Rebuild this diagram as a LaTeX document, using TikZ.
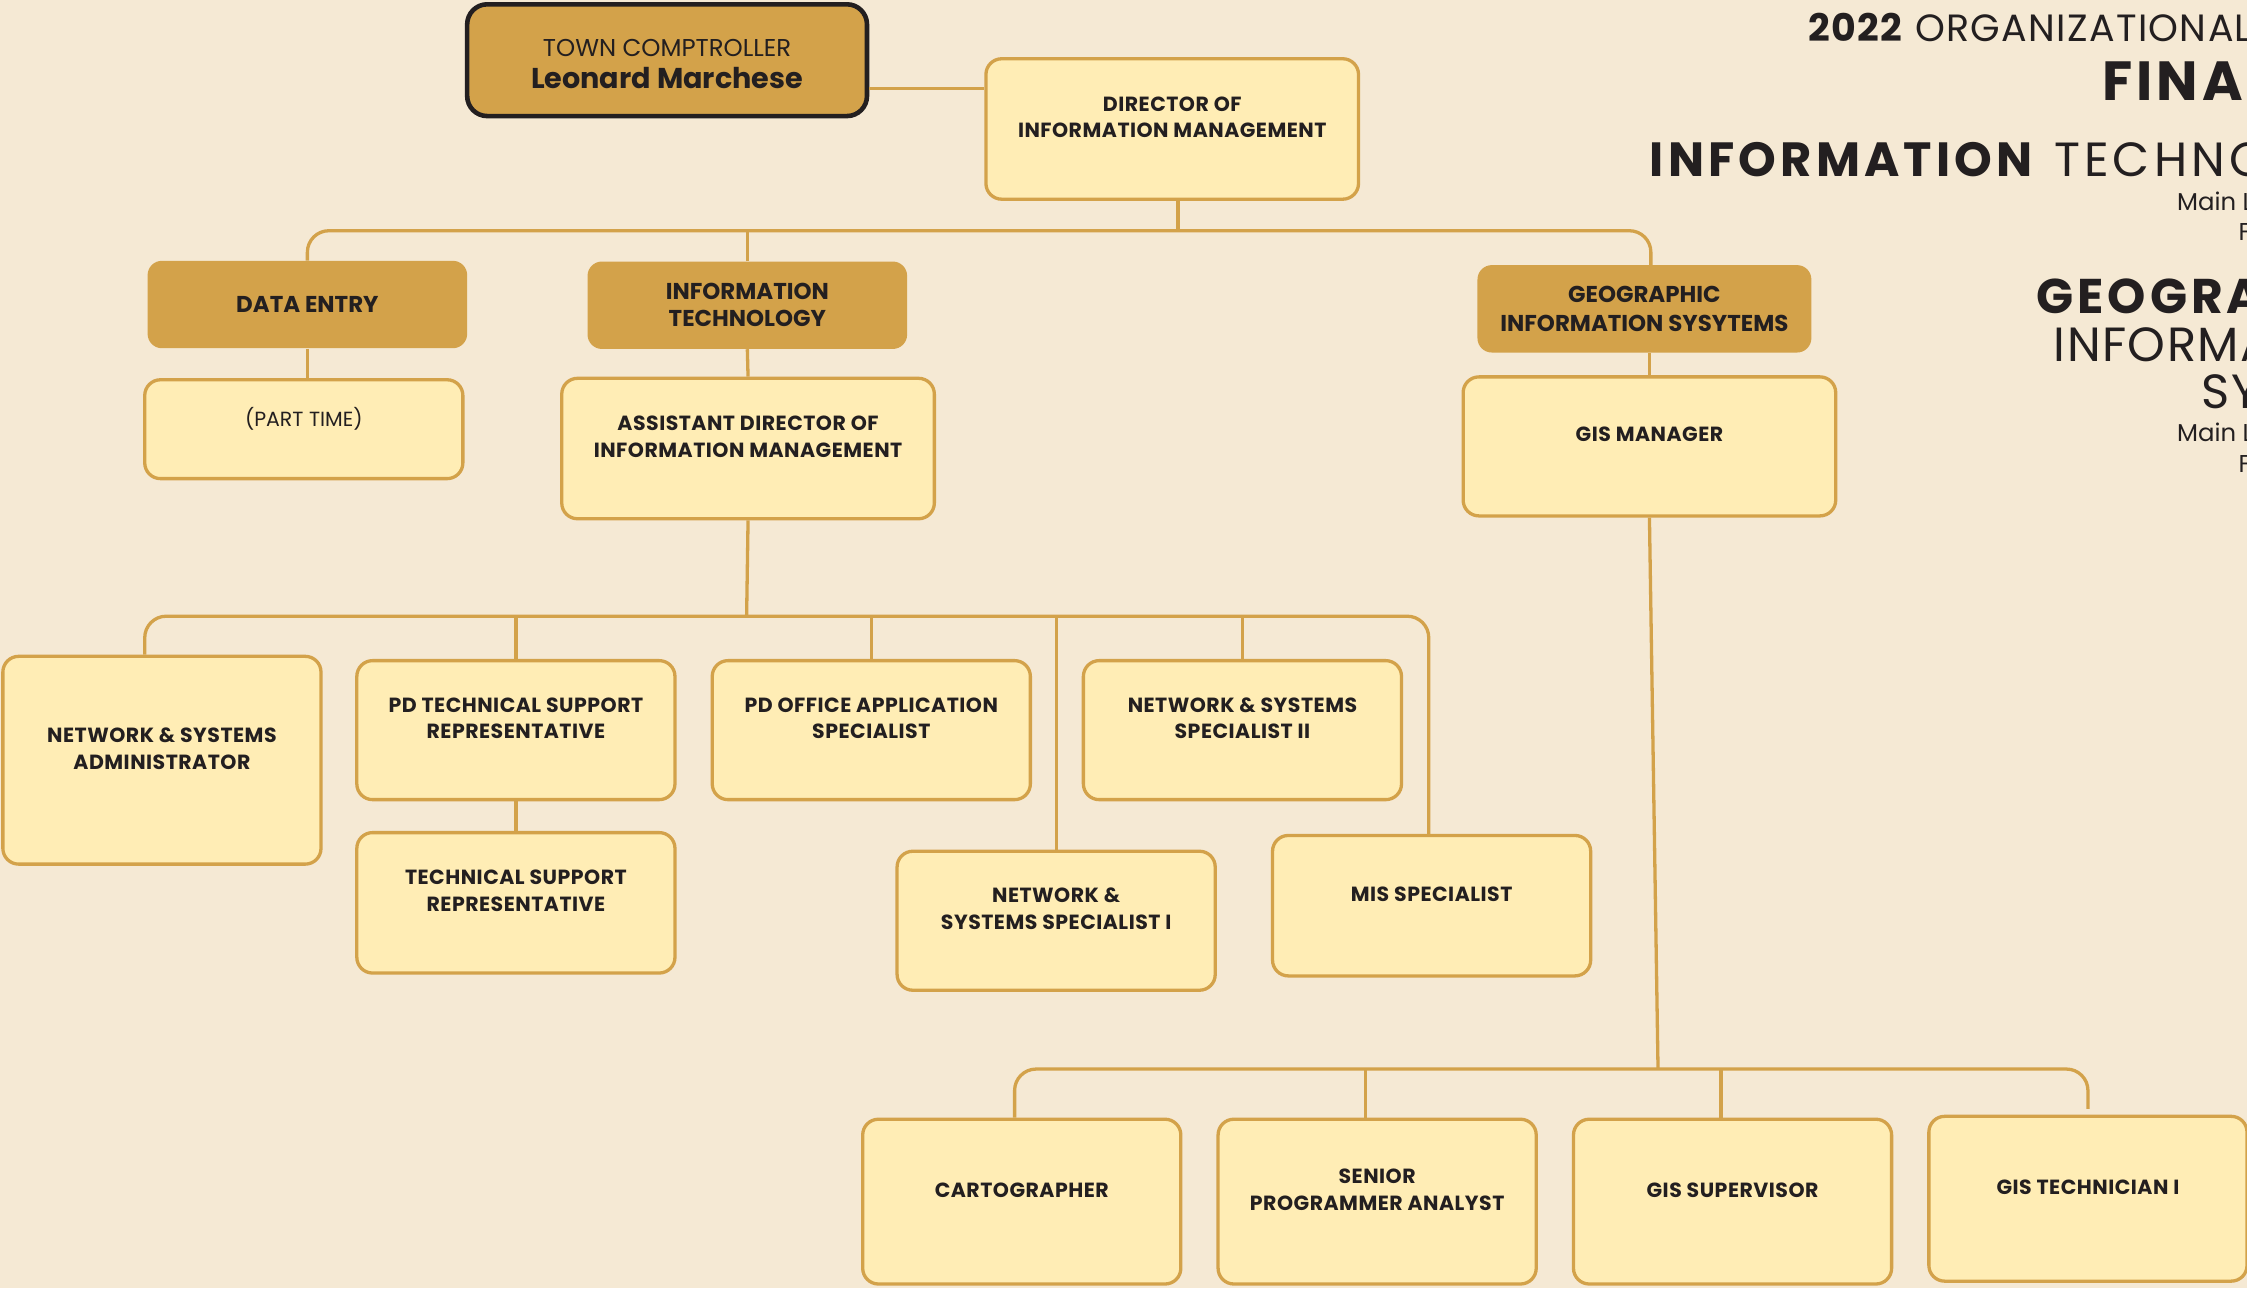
\documentclass[tikz,border=0pt]{standalone}
\usepackage{fontspec}
\setmainfont{Poppins}
\usepackage{xcolor}
\definecolor{bgtan}{RGB}{245,233,212}
\definecolor{gold}{RGB}{211,162,74}
\definecolor{paleyellow}{RGB}{255,237,181}
\definecolor{ink}{RGB}{35,31,32}
% empty last line, lifts the text in a box
\newcommand{\padline}{\\[-2pt]\mbox{}}

\begin{document}
\begin{tikzpicture}[x=1pt,y=-1pt,
    role/.style={draw=gold, line width=2.3pt, fill=paleyellow, rounded corners=11pt, text=ink, align=center,
      minimum width=222pt, minimum height=97pt, inner sep=0pt,
      font=\fontsize{14.3}{18.6}\selectfont\bfseries\addfontfeature{LetterSpace=2.4}},
    dept/.style={fill=gold, rounded corners=10pt, text=ink, align=center, minimum width=223pt,
      minimum height=61pt, inner sep=0pt, font=\fontsize{16}{19}\selectfont\bfseries},
    title/.style={anchor=base west, inner sep=0pt, text=ink},
    link/.style={draw=gold, line width=2.3pt},
    bus/.style={link, rounded corners=15pt}]
    % Page and background
    \useasboundingbox (0,0) rectangle (1568,899);
    \clip (0,0) rectangle (1568,899);
    \fill[bgtan] (0,0) rectangle (1568,899);

    % Title block, runs off the right edge
    \node[title, font=\fontsize{26.5}{30}\selectfont\addfontfeature{LetterSpace=3.5}] (year) at (1262,29) {\textbf{2022} ORGANIZATIONAL CHART};
    \node[title, font=\bfseries\fontsize{38.5}{40}\selectfont\addfontfeature{LetterSpace=7}] (finance) at (1467,70) {FINANCE};
    \node[title, font=\fontsize{33.5}{36}\selectfont\addfontfeature{LetterSpace=8.7}] (ithead) at (1151,123.5) {\textbf{INFORMATION} TECHNOLOGY};
    \node[title, font=\fontsize{17}{20}\selectfont] (itmain) at (1519,147) {Main Line};
    \node[title, font=\fontsize{17}{20}\selectfont] (itfax) at (1562,167.5) {Fax};
    \node[title, font=\bfseries\fontsize{34}{36}\selectfont\addfontfeature{LetterSpace=8}] (gishead) at (1421,219) {GEOGRAPHIC};
    \node[title, font=\fontsize{33.5}{36}\selectfont\addfontfeature{LetterSpace=3}] (gishead2) at (1433,252.5) {INFORMATION};
    \node[title, font=\fontsize{33.5}{36}\selectfont\addfontfeature{LetterSpace=3}] (gishead3) at (1536,285) {SYSTEMS};
    \node[title, font=\fontsize{17}{20}\selectfont] (gismain) at (1519,308) {Main Line};
    \node[title, font=\fontsize{17}{20}\selectfont] (gisfax) at (1562,330) {Fax};

    % Comptroller and director
    \node[dept, draw=ink, line width=3.2pt, rounded corners=14pt, minimum width=279pt, minimum height=78pt,
      font=\fontsize{17}{22.5}\selectfont] (comp) at (465.5,42)
      {\mbox{}\\[-5pt]TOWN COMPTROLLER\\{\bfseries\fontsize{20}{22.5}\selectfont Leonard Marchese}};
    \node[role, minimum width=260pt, minimum height=98pt] (dir) at (818,90) {DIRECTOR OF\\INFORMATION MANAGEMENT\padline};

    % Divisions
    \node[dept] (entry) at (214.5,212.5) {DATA ENTRY};
    \node[role, minimum height=69pt, font=\fontsize{14.3}{18.6}\selectfont] (part) at (212,299.5) {(PART TIME)\padline};
    \node[dept] (itdept) at (521.5,213) {INFORMATION\\TECHNOLOGY};
    \node[role, minimum width=260pt, minimum height=98pt] (asst) at (522,313) {ASSISTANT DIRECTOR OF\\INFORMATION MANAGEMENT\padline};
    \node[dept, minimum width=233pt] (gisdept) at (1147.5,215.5) {GEOGRAPHIC\\[1.5pt]INFORMATION SYSYTEMS};
    \node[role, minimum width=260pt] (gismgr) at (1151,311.5) {GIS MANAGER\padline};

    % IT staff
    \node[role, minimum height=145pt] (netadmin) at (113,530.5) {NETWORK \& SYSTEMS\\ADMINISTRATOR\padline};
    \node[role] (pdtech) at (360,509.5) {PD TECHNICAL SUPPORT\\REPRESENTATIVE\padline};
    \node[role, minimum height=98pt] (techsup) at (360,630) {TECHNICAL SUPPORT\\REPRESENTATIVE\padline};
    \node[role] (pdoffice) at (608,509.5) {PD OFFICE APPLICATION\\SPECIALIST\padline};
    \node[role] (netspec2) at (867,509.5) {NETWORK \& SYSTEMS\\SPECIALIST II\padline};
    \node[role] (netspec1) at (737,642.5) {NETWORK \&\\SYSTEMS SPECIALIST I\padline};
    \node[role, minimum height=98pt] (mis) at (999,632) {MIS SPECIALIST\padline};

    % GIS staff
    \node[role, minimum height=115pt] (carto) at (713,838.5) {CARTOGRAPHER\padline};
    \node[role, minimum height=115pt] (senior) at (961,838.5) {SENIOR\\PROGRAMMER ANALYST\padline};
    \node[role, minimum height=115pt] (gissup) at (1209,838.5) {GIS SUPERVISOR\padline};
    \node[role, minimum height=115pt] (gistech) at (1457,836.5) {GIS TECHNICIAN I\padline};

    % Bus junctions
    \coordinate (topbus) at (822,161);
    \coordinate (itbus) at (521,430);
    \coordinate (gisbus) at (1157,746);

    % Upper links
    \draw[link] ([yshift=-20pt]comp.east) -- ([yshift=-20pt]comp.east -| dir.west);
    \draw[link] ([xshift=4pt]dir.south) -- (topbus);
    \draw[bus] (entry.north) |- (topbus) -| ([xshift=4.5pt]gisdept.north);
    \draw[link] (itdept.north) -- (itdept.north |- topbus);
    \draw[link] (entry.south) -- (entry.south |- part.north);
    \draw[link] (itdept.south) -- (asst.north);
    \draw[link] (gismgr.north |- gisdept.south) -- (gismgr.north);

    % IT links
    \draw[link] (asst.south) -- (itbus);
    \draw[bus] ([xshift=-12pt]netadmin.north) |- (itbus) -| ([xshift=-2pt]mis.north);
    \foreach \n in {pdtech,pdoffice,netspec2,netspec1}
      \draw[link] (\n.north |- itbus) -- (\n.north);
    \draw[link] (pdtech.south) -- (techsup.north);

    % GIS links
    \draw[link] (gismgr.south) -- (gisbus);
    \draw[bus] ([xshift=-5pt]carto.north) |- (gisbus) -| ([yshift=4pt]gistech.north);
    \foreach \n in {senior,gissup}
      \draw[link] ([xshift=-8pt]\n.north |- gisbus) -- ([xshift=-8pt]\n.north);
\end{tikzpicture}
\end{document}
